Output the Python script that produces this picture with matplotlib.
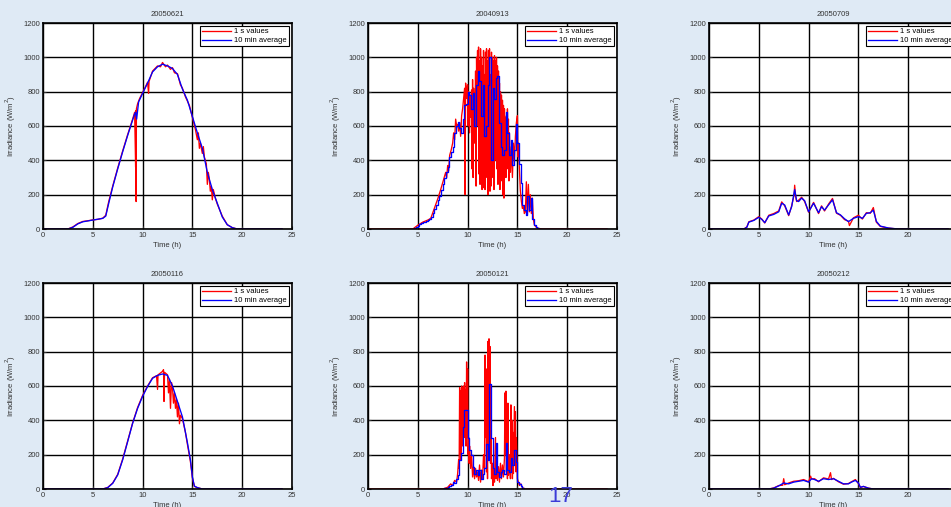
import numpy as np
import matplotlib
matplotlib.use('Agg')
import matplotlib.pyplot as plt

plt.rcParams['font.family'] = ['Liberation Sans', 'DejaVu Sans']

bg = '#dfeaf5'

# 20050621
t1_avg = [0, 2.5, 3, 3.5, 4, 4.5, 5, 5.5, 6, 6.3, 6.6, 7, 7.5, 8, 8.5, 9, 9.2, 9.3, 9.4, 9.6, 10, 10.5, 11, 11.5, 12, 12.5, 13, 13.5, 14, 14.5, 15, 15.5, 16, 16.5, 17, 17.5, 18, 18.5, 19, 19.5, 24]
v1_avg = [0, 0, 10, 30, 42, 47, 52, 57, 62, 75, 150, 245, 350, 450, 545, 635, 670, 680, 640, 740, 790, 850, 915, 945, 960, 950, 935, 900, 815, 750, 655, 560, 470, 330, 230, 150, 70, 25, 8, 0, 0]
t1_sec = [0, 2.5, 3, 3.5, 4, 4.5, 5, 5.5, 6, 6.3, 6.6, 7, 7.5, 8, 8.5, 9, 9.2, 9.3, 9.32, 9.35, 9.38, 9.5, 9.7, 10, 10.3, 10.5, 10.6, 10.65, 11, 11.5, 11.8, 12, 12.3, 12.5, 12.8, 13, 13.2, 13.5, 13.8, 14, 14.3, 14.5, 14.7, 15, 15.3, 15.5, 15.6, 15.7, 15.8, 16, 16.1, 16.2, 16.4, 16.5, 16.6, 16.7, 16.8, 16.9, 17, 17.1, 17.3, 17.5, 18, 18.5, 19, 19.5, 24]
v1_sec = [0, 0, 12, 32, 44, 48, 53, 56, 63, 80, 160, 250, 355, 455, 550, 640, 680, 360, 690, 160, 700, 730, 760, 795, 830, 855, 790, 860, 920, 950, 945, 970, 945, 955, 930, 940, 910, 905, 840, 820, 770, 745, 720, 650, 580, 520, 560, 470, 500, 440, 480, 420, 380, 260, 330, 290, 220, 250, 170, 230, 180, 145, 75, 25, 8, 0, 0]

# 20040913 (10 min steps from 4.5 h)
t2_start = 4.5
v2_avg = [0, 5, 12, 20, 27, 33, 38, 42, 47, 52, 57, 70, 95, 115, 140, 170, 195, 225,
          265, 300, 330, 360, 420, 450, 480, 560, 600, 625, 590, 560, 640, 720, 730, 800,
          780, 700, 790, 600, 840, 920, 860, 660, 840, 540, 600, 840, 1000, 400, 820, 760,
          880, 890, 620, 480, 430, 460, 680, 560, 430, 520, 370, 460, 610, 500, 380, 270,
          140, 110, 80, 190, 110, 180, 60, 25, 10, 5, 2, 0]
t2_sec = [0, 4.5, 5, 5.5, 6, 6.3, 6.6, 7, 7.3, 7.5, 7.8, 7.9, 8.0, 8.1, 8.2, 8.35, 8.5, 8.6, 8.7, 8.8, 8.9, 9.0, 9.1, 9.2, 9.3, 9.4, 9.5, 9.6, 9.7, 9.75, 9.8, 9.9,
          10.0, 10.05, 10.1, 10.2, 10.25, 10.3, 10.4, 10.45, 10.5, 10.55, 10.6, 10.7, 10.8, 10.85, 10.9, 10.95,
          11.0, 11.05, 11.1, 11.15, 11.2, 11.25, 11.3, 11.35, 11.4, 11.45, 11.5, 11.55, 11.6, 11.65, 11.7, 11.75, 11.8, 11.85, 11.9, 11.95,
          12.0, 12.05, 12.1, 12.15, 12.2, 12.25, 12.3, 12.35, 12.4, 12.45, 12.5, 12.55, 12.6, 12.65, 12.7, 12.75, 12.8, 12.85, 12.9, 12.95,
          13.0, 13.05, 13.1, 13.15, 13.2, 13.25, 13.3, 13.35, 13.4, 13.45, 13.5, 13.55, 13.6, 13.65, 13.7, 13.75, 13.8, 13.85, 13.9, 13.95,
          14.0, 14.05, 14.1, 14.15, 14.2, 14.3, 14.4, 14.5, 14.6, 14.7, 14.8, 14.9, 15.0, 15.05, 15.1, 15.2, 15.3, 15.4, 15.5, 15.6, 15.7, 15.8, 15.9,
          16.0, 16.1, 16.2, 16.3, 16.4, 16.5, 16.6, 16.7, 16.9, 17.2, 17.5, 24]
v2_sec = [0, 0, 22, 40, 52, 62, 110, 175, 230, 270, 330, 300, 370, 340, 430, 460, 500, 560, 520, 640, 600, 610, 570, 620, 540, 660, 700, 760, 820, 200, 850, 760,
          840, 600, 800, 560, 780, 650, 810, 350, 870, 300, 820, 500, 920, 250, 1000, 700,
          1040, 600, 1060, 320, 980, 260, 1050, 420, 1000, 230, 950, 240, 1040, 380, 900, 230, 1030, 500, 1050, 300,
          980, 200, 1040, 600, 1050, 220, 900, 250, 1030, 420, 1000, 300, 980, 230, 1010, 580, 980, 400, 1000, 350,
          950, 260, 920, 420, 850, 230, 800, 340, 780, 280, 750, 200, 720, 180, 700, 400, 650, 300, 660, 350,
          700, 500, 640, 280, 560, 330, 480, 300, 500, 400, 540, 620, 660, 420, 500, 350, 220, 160, 120, 130, 90, 100, 275,
          80, 260, 100, 200, 90, 180, 60, 25, 10, 2, 0, 0]

# 20050709
t3_avg = [0, 3.5, 3.8, 4, 4.5, 5, 5.3, 5.6, 6, 6.5, 7, 7.3, 7.6, 8, 8.3, 8.6, 8.8, 9, 9.3, 9.6, 10, 10.5, 11, 11.3, 11.6, 12, 12.4, 12.8, 13.2, 13.6, 14, 14.5, 15, 15.4, 15.8, 16.2, 16.5, 16.8, 17.2, 18, 19, 24]
v3_avg = [0, 0, 10, 40, 50, 68, 56, 37, 76, 85, 100, 150, 140, 82, 130, 230, 165, 160, 180, 165, 100, 150, 95, 130, 110, 140, 170, 95, 82, 60, 43, 62, 72, 62, 91, 95, 110, 45, 17, 6, 0, 0]
t3_sec = [0, 3.5, 3.8, 4, 4.5, 5, 5.3, 5.6, 6, 6.5, 7, 7.3, 7.6, 8, 8.3, 8.55, 8.6, 8.7, 8.8, 9, 9.3, 9.6, 10, 10.5, 11, 11.3, 11.6, 12, 12.4, 12.8, 13.2, 13.6, 14, 14.1, 14.5, 15, 15.4, 15.8, 16.2, 16.5, 16.8, 17.2, 18, 19, 24]
v3_sec = [0, 0, 12, 42, 52, 72, 58, 35, 80, 90, 105, 158, 135, 78, 135, 200, 255, 190, 160, 168, 185, 160, 98, 155, 90, 135, 105, 145, 178, 92, 80, 55, 45, 20, 65, 80, 58, 95, 92, 125, 40, 15, 5, 0, 0]

# 20050116
t4_avg = [0, 6, 6.5, 7, 7.5, 8, 8.5, 9, 9.5, 10, 10.5, 11, 11.5, 12, 12.5, 13, 13.5, 14, 14.5, 14.8, 15, 15.2, 15.5, 16, 24]
v4_avg = [0, 0, 8, 33, 82, 170, 276, 383, 470, 540, 597, 645, 662, 670, 662, 600, 510, 420, 270, 170, 70, 17, 8, 0, 0]
t4_sec = [0, 6, 6.5, 7, 7.5, 8, 8.5, 9, 9.5, 10, 10.5, 11, 11.4, 11.5, 11.55, 12, 12.1, 12.15, 12.2, 12.5, 12.6, 12.7, 12.8, 12.9, 13, 13.1, 13.2, 13.3, 13.4, 13.5, 13.6, 13.7, 13.8, 14, 14.3, 14.5, 14.8, 15, 15.2, 15.5, 16, 24]
v4_sec = [0, 0, 9, 35, 85, 175, 280, 385, 475, 545, 600, 648, 660, 580, 665, 685, 695, 510, 680, 665, 560, 640, 470, 620, 590, 500, 560, 470, 520, 420, 500, 380, 430, 410, 330, 260, 160, 65, 15, 8, 0, 0]

# 20050121 (10 min steps from 7.5 h)
t5_start = 7.5
v5_avg = [0, 3, 8, 10, 20, 25, 40, 35, 60, 80, 170, 210, 360, 460, 460, 300, 230, 200,
          130, 90, 110, 80, 110, 60, 90, 120, 260, 170, 610, 300, 120, 90, 270, 100, 70,
          100, 110, 90, 270, 110, 100, 180, 140, 230, 160, 40, 30, 15, 5, 2, 0]
t5_sec = [0, 7.5, 8, 8.3, 8.5, 8.7, 8.9, 9.0, 9.1, 9.15, 9.2, 9.25, 9.3, 9.35, 9.4, 9.45, 9.5, 9.55, 9.6, 9.65, 9.7, 9.75, 9.8, 9.85, 9.9, 9.95,
          10.0, 10.05, 10.1, 10.15, 10.2, 10.3, 10.4, 10.5, 10.6, 10.7, 10.8, 10.9, 11.0, 11.1, 11.2, 11.3, 11.4, 11.5, 11.6, 11.7, 11.75, 11.8, 11.85, 11.9, 11.95,
          12.0, 12.05, 12.1, 12.15, 12.2, 12.25, 12.3, 12.35, 12.4, 12.5, 12.55, 12.6, 12.7, 12.8, 12.85, 12.9, 13.0, 13.1, 13.2, 13.3, 13.4, 13.5, 13.6, 13.7, 13.75, 13.8, 13.85, 13.9, 13.95,
          14.0, 14.05, 14.1, 14.2, 14.3, 14.35, 14.4, 14.45, 14.5, 14.55, 14.6, 14.7, 14.75, 14.8, 14.85, 14.9, 15.0, 15.1, 15.2, 15.35, 15.5, 15.8, 24]
v5_sec = [0, 0, 10, 30, 20, 50, 40, 90, 170, 120, 590, 200, 570, 170, 600, 250, 590, 350, 600, 300, 620, 400, 580, 250, 740, 300,
          700, 200, 300, 150, 250, 120, 200, 70, 130, 60, 120, 70, 100, 50, 140, 40, 110, 60, 200, 120, 780, 300, 700, 100, 400,
          60, 860, 200, 875, 400, 830, 150, 500, 60, 150, 20, 120, 40, 300, 60, 200, 50, 130, 40, 150, 60, 140, 70, 180, 560, 200, 570, 100, 400,
          60, 500, 80, 200, 60, 490, 100, 400, 60, 330, 90, 480, 150, 450, 100, 300, 60, 40, 20, 30, 8, 0, 0]

# 20050212
t6_avg = [0, 6, 6.5, 7, 7.5, 8, 8.5, 9, 9.5, 10, 10.3, 10.6, 11, 11.5, 12, 12.5, 13, 13.5, 14, 14.3, 14.7, 15, 15.2, 15.5, 16, 16.5, 24]
v6_avg = [0, 0, 5, 18, 35, 30, 40, 45, 50, 40, 60, 55, 45, 60, 55, 60, 45, 30, 30, 40, 50, 35, 10, 15, 5, 0, 0]
t6_sec = [0, 6, 6.5, 7, 7.4, 7.5, 7.6, 8, 8.5, 9, 9.5, 10, 10.2, 10.3, 10.6, 11, 11.5, 12, 12.2, 12.3, 12.5, 13, 13.5, 14, 14.3, 14.7, 15, 15.2, 15.5, 16, 16.5, 24]
v6_sec = [0, 0, 6, 20, 22, 60, 25, 35, 45, 48, 55, 42, 75, 58, 60, 42, 65, 58, 95, 55, 62, 42, 28, 32, 42, 55, 32, 8, 15, 5, 0, 0]

titles = ['20050621', '20040913', '20050709', '20050116', '20050121', '20050212']


def step_times(start, values):
    return start + np.arange(len(values)) / 6.0


t2_avg = list(step_times(t2_start, v2_avg)) + [24]
v2_avg = v2_avg + [0]
t5_avg = list(step_times(t5_start, v5_avg)) + [24]
v5_avg = v5_avg + [0]

series = [
    (t1_sec, v1_sec, t1_avg, v1_avg, 'default'),
    (t2_sec, v2_sec, t2_avg, v2_avg, 'steps-post'),
    (t3_sec, v3_sec, t3_avg, v3_avg, 'default'),
    (t4_sec, v4_sec, t4_avg, v4_avg, 'default'),
    (t5_sec, v5_sec, t5_avg, v5_avg, 'steps-post'),
    (t6_sec, v6_sec, t6_avg, v6_avg, 'default'),
]

W, H = 951, 507
fig = plt.figure(figsize=(W / 100, H / 100), dpi=100, facecolor=bg)

lefts = [43, 368, 709]
tops = [23, 283]
aw, ah = 249, 206

for i, (ts, vs, ta, va, ds) in enumerate(series):
    row, col = divmod(i, 3)
    ax = fig.add_axes([lefts[col] / W, 1 - (tops[row] + ah) / H, aw / W, ah / H])
    ax.plot(ts, vs, color='#ff0000', lw=0.95, label='1 s values')
    ax.plot(ta, va, color='#0000ff', lw=0.95, drawstyle=ds, label='10 min average')
    ax.set_xlim(0, 25)
    ax.set_ylim(0, 1200)
    ax.set_xticks(range(0, 26, 5))
    ax.set_yticks(range(0, 1201, 200))
    ax.grid(True, color='black', lw=1.0)
    ax.set_axisbelow(True)
    for s in ax.spines.values():
        s.set_linewidth(1.2)
    ax.tick_params(labelsize=5.5, direction='in', length=2, pad=2, colors='#333333')
    ax.set_title(titles[i], fontsize=5.5, pad=5, color='#333333')
    ax.set_xlabel('Time (h)', fontsize=5.5, labelpad=2, color='#333333')
    ax.set_ylabel('Irradiance (W/m$^2$)', fontsize=5.5, labelpad=4, color='#333333')
    leg = ax.legend(loc='upper right', fontsize=5.5, handlelength=3.8, handletextpad=0.4,
                    borderaxespad=0.35, fancybox=False, framealpha=1, borderpad=0.3,
                    labelspacing=0.2)
    leg.get_frame().set_edgecolor('black')
    leg.get_frame().set_linewidth(0.8)

fig.text(561 / W, 1 - 486 / H, '17', fontsize=16, color='#3c3cd8', ha='center', va='top')

fig.savefig('out.png', dpi=100, facecolor=bg)
